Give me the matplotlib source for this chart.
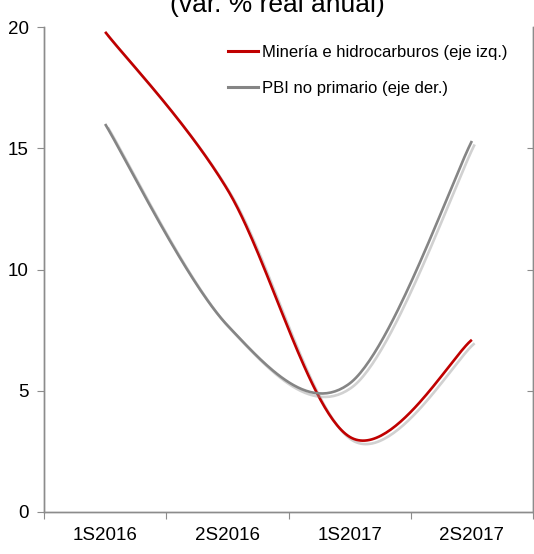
import numpy as np
import matplotlib.pyplot as plt
import matplotlib.patheffects as pe
from matplotlib.lines import Line2D

plt.rcParams['font.family'] = ['Liberation Sans Narrow', 'Liberation Sans', 'DejaVu Sans']

periods = ["1S2016", "2S2016", "1S2017", "2S2017"]
mineria = [19.8, 13.3, 3.1, 7.1]      # eje izq.
pbi_no_primario = [16.0, 7.7, 5.3, 15.3]  # eje der.

red = "#c00000"
grey = "#858585"
spine_col = "#8c8c8c"


def smooth(xs, ys, n=60):
    # bezier smoothing through every point, like spreadsheet "smoothed line"
    p = np.column_stack([xs, ys]).astype(float)
    p = np.vstack([p[0], p, p[-1]])
    out = []
    for i in range(1, len(p) - 2):
        p0, p3 = p[i], p[i + 1]
        c1 = p0 + (p[i + 1] - p[i - 1]) / 6
        c2 = p3 - (p[i + 2] - p[i]) / 6
        t = np.linspace(0, 1, n)[:, None]
        seg = (1 - t) ** 3 * p0 + 3 * (1 - t) ** 2 * t * c1 + 3 * (1 - t) * t ** 2 * c2 + t ** 3 * p3
        out.append(seg if i == 1 else seg[1:])
    out = np.vstack(out)
    return out[:, 0], out[:, 1]


fig = plt.figure(figsize=(5.34, 5.54), dpi=100)
ax = fig.add_axes([44 / 534, 42 / 554, 489 / 534, 485 / 554])
ax2 = ax.twinx()

x = np.arange(len(periods))
shadow = [pe.SimpleLineShadow(offset=(2, -2.5), shadow_color="#999999", alpha=0.45), pe.Normal()]

sx, sy = smooth(x, mineria)
ax.plot(sx, sy, color=red, lw=1.9, solid_capstyle="butt", path_effects=shadow, zorder=3)
gx, gy = smooth(x, pbi_no_primario)
ax2.plot(gx, gy, color=grey, lw=1.9, solid_capstyle="butt", path_effects=shadow, zorder=2)

for a in (ax, ax2):
    a.set_ylim(0, 20)
    a.set_xlim(-0.5, len(periods) - 0.5)
    for s in a.spines.values():
        s.set_color(spine_col)
        s.set_linewidth(1.0)
    a.spines["top"].set_visible(False)

ax.set_yticks([0, 5, 10, 15, 20])
ax.tick_params(axis="y", direction="out", length=5, color=spine_col, labelsize=13.5, pad=6)
ax.set_xticks(np.arange(-0.5, len(periods)), minor=False)
ax.set_xticklabels([])
ax.set_xticks(x, minor=True)
ax.set_xticklabels(periods, minor=True)
ax.tick_params(axis="x", which="major", direction="out", length=5, color=spine_col)
ax.tick_params(axis="x", which="minor", length=0, labelsize=13.5, pad=11)

ax2.set_yticks([5, 10, 15])
ax2.tick_params(axis="y", direction="in", length=4, color=spine_col, labelright=False)

handles = [Line2D([], [], color=red, lw=2.2), Line2D([], [], color=grey, lw=2.2)]
fig.legend(handles, ["Minería e hidrocarburos (eje izq.)", "PBI no primario (eje der.)"],
           loc="upper left", bbox_to_anchor=(213 / 534, 1 - 30 / 554), frameon=False,
           fontsize=12, handlelength=1.8, handletextpad=0.25, labelspacing=1.25)

fig.text(0.52, 1 - 12 / 554, "(var. % real anual)", ha="center", va="baseline", fontsize=19)

fig.savefig("out.png", dpi=100)
